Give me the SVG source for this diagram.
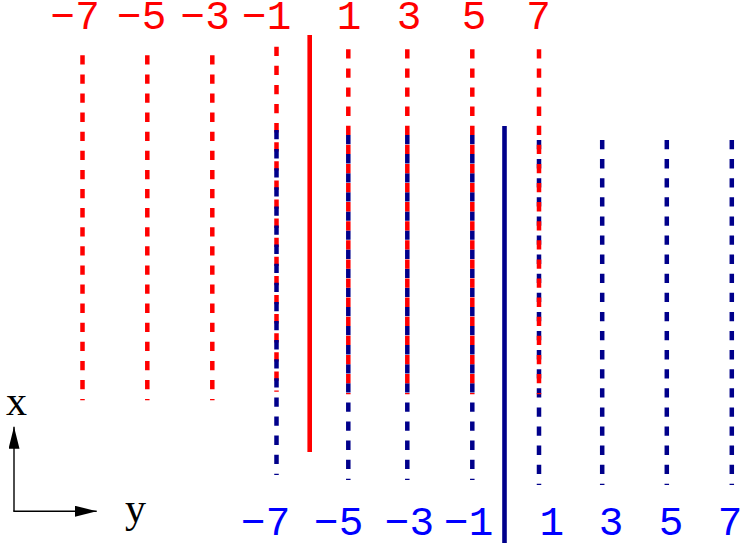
<svg xmlns="http://www.w3.org/2000/svg" width="747" height="549" viewBox="0 0 747 549">
<defs>
<style>
.rd{stroke:#ff0000;stroke-width:4.5;stroke-dasharray:9.3 9.8;fill:none}
.bd{stroke:#00008b;stroke-width:4.5;stroke-dasharray:9.3 9.8;fill:none}
.rs{stroke:#ff0000;stroke-width:4.6;fill:none}
.bs{stroke:#00008b;stroke-width:4.6;fill:none}
.lr{font-family:"Liberation Mono","Courier New",monospace;font-size:41px;fill:#ff0000}
.lb{font-family:"Liberation Mono","Courier New",monospace;font-size:41px;fill:#0000ff}
.ax{font-family:"Liberation Serif","Times New Roman",serif;font-size:42px;fill:#000000}
.axl{stroke:#000;stroke-width:1.4;fill:none;marker-end:url(#ah)}
</style>
<marker id="ah" markerUnits="userSpaceOnUse" markerWidth="23" markerHeight="12" refX="22" refY="5.5" orient="auto">
<path d="M0,0 L22,5.5 L0,11 Z" fill="#000"/>
</marker>
</defs>
<g id="connectors">
<g id="red-left">
<line class="rd" x1="82.5" y1="55.3" x2="82.5" y2="400.3"/>
<line class="rd" x1="147.3" y1="55.3" x2="147.3" y2="400.3"/>
<line class="rd" x1="212.3" y1="55.3" x2="212.3" y2="400.3"/>
<line class="rd" x1="276.5" y1="46.7" x2="276.5" y2="391.7"/>
</g>
<line id="red-solid" class="rs" x1="309.7" y1="35" x2="309.7" y2="452"/>
<g id="blue-dashed">
<line class="bd" x1="276.5" y1="130" x2="276.5" y2="475"/>
<line class="bd" x1="348.3" y1="135" x2="348.3" y2="480"/>
<line class="bd" x1="407.3" y1="135" x2="407.3" y2="480"/>
<line class="bd" x1="472.3" y1="135" x2="472.3" y2="480"/>
<line class="bd" x1="539" y1="140" x2="539" y2="485"/>
<line class="bd" x1="602.2" y1="140" x2="602.2" y2="485"/>
<line class="bd" x1="666.8" y1="140" x2="666.8" y2="485"/>
<line class="bd" x1="731.8" y1="140" x2="731.8" y2="485"/>
</g>
<g id="red-right">
<line class="rd" x1="348.3" y1="49.3" x2="348.3" y2="394.3"/>
<line class="rd" x1="407.3" y1="49.3" x2="407.3" y2="394.3"/>
<line class="rd" x1="472.3" y1="49.3" x2="472.3" y2="394.3"/>
<line class="rd" x1="539" y1="49.3" x2="539" y2="394.3"/>
</g>
<line id="blue-solid" class="bs" x1="504.5" y1="126" x2="504.5" y2="543"/>
</g>
<g id="red-labels">
<text class="lr" x="99.8" y="29" text-anchor="end">−7</text>
<text class="lr" x="166.3" y="29" text-anchor="end">−5</text>
<text class="lr" x="229.8" y="29" text-anchor="end">−3</text>
<text class="lr" x="291.3" y="29" text-anchor="end">−1</text>
<text class="lr" x="349" y="29" text-anchor="middle">1</text>
<text class="lr" x="409" y="29" text-anchor="middle">3</text>
<text class="lr" x="474" y="29" text-anchor="middle">5</text>
<text class="lr" x="538.5" y="29" text-anchor="middle">7</text>
</g>
<g id="blue-labels">
<text class="lb" x="290.3" y="535" text-anchor="end">−7</text>
<text class="lb" x="363.3" y="535" text-anchor="end">−5</text>
<text class="lb" x="434" y="535" text-anchor="end">−3</text>
<text class="lb" x="493.3" y="535" text-anchor="end">−1</text>
<text class="lb" x="551.7" y="535" text-anchor="middle">1</text>
<text class="lb" x="611" y="535" text-anchor="middle">3</text>
<text class="lb" x="671" y="535" text-anchor="middle">5</text>
<text class="lb" x="730" y="535" text-anchor="middle">7</text>
</g>
<g id="axes">
<line class="axl" x1="14" y1="511.2" x2="14" y2="426.7"/>
<line class="axl" x1="13.3" y1="511.2" x2="96.7" y2="511.2"/>
<text class="ax" x="16.5" y="415" text-anchor="middle">x</text>
<text class="ax" x="135.5" y="522" text-anchor="middle">y</text>
</g>
</svg>
